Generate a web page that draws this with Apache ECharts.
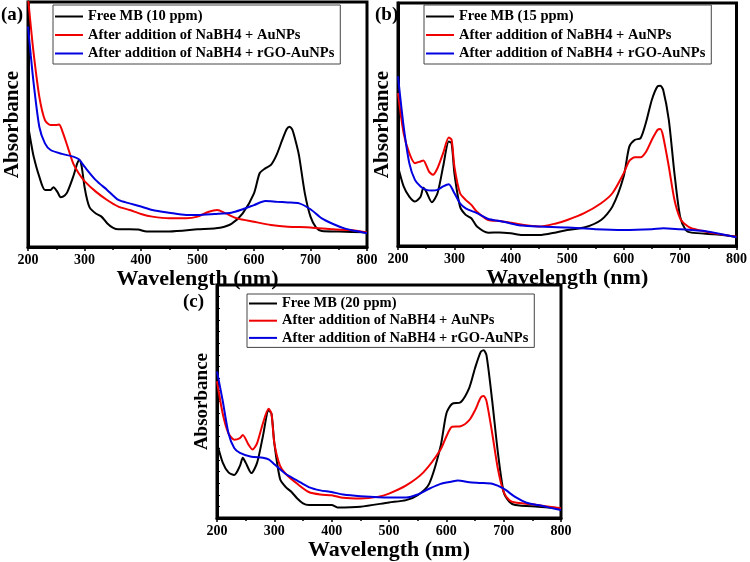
<!DOCTYPE html>
<html>
<head>
<meta charset="utf-8">
<script src="https://cdn.jsdelivr.net/npm/echarts@6/dist/echarts.min.js"></script>
<style>
  html, body { margin: 0; padding: 0; background: #fff; }
  #chart { width: 750px; height: 562px; }
</style>
</head>
<body>
<div id="chart"></div>
<script>
// wavelength ticks
const xMin = 200;
const xMax = 800;
const xStep = 100;

// legend names
const nameFree10 = 'Free MB (10 ppm)';
const nameFree15 = 'Free MB (15 ppm)';
const nameFree20 = 'Free MB (20 ppm)';
const nameAu = 'After addition of NaBH4 + AuNPs';
const nameRgo = 'After addition of NaBH4 + rGO-AuNPs';

// panel (a) - [wavelength, absorbance (a.u.)]
const freeA = [[200,49.8],[205,43],[210,36.9],[220,28.7],[230,23.3],[240,23.3],[245,24.4],[252,22.5],[258,20.3],[265,21],[270,22.6],[280,28.7],[287,34],[291,35.5],[295,32.8],[300,24.6],[305,19],[310,15.8],[320,13.7],[330,12.4],[340,9.7],[350,7.9],[360,7.2],[380,7.2],[395,7.1],[410,6.3],[450,6.3],[500,7.2],[540,7.9],[560,9.4],[580,13.7],[600,21.9],[610,30.1],[620,32.1],[630,33.5],[640,37.6],[650,43.7],[658,48.2],[663,49.1],[668,47.8],[675,42],[680,36.9],[690,21.9],[700,12.4],[710,7.9],[720,6.5],[750,6.3],[800,6]];
const auA = [[200,102],[205,90],[210,79],[220,61.4],[230,51.8],[240,49.8],[250,49.8],[255,50],[260,47.8],[270,41],[280,34.1],[290,30],[300,26.9],[320,22.6],[340,19.2],[360,16.5],[380,15.1],[400,13.5],[420,12.4],[450,11.7],[480,11.7],[500,12.4],[520,14.4],[535,15.1],[550,13.7],[570,11.7],[600,10.3],[630,9],[660,8.3],[700,8],[740,7.2],[770,6.9],[800,5.9]];
const rgoA = [[200,90],[205,78],[210,66.8],[220,49.1],[230,42.3],[240,39.6],[260,38],[280,36.9],[290,35.8],[300,32.8],[320,27.3],[340,23.3],[360,19.2],[380,17.8],[400,16.5],[420,15.1],[450,14],[480,13.1],[500,13.1],[530,13.5],[560,14],[580,15.4],[600,17.1],[620,18.8],[640,18.5],[660,18.2],[680,17.8],[700,15.4],[720,11.7],[740,9.4],[760,7.6],[780,6.5],[800,5.6]];

// panel (b)
const freeB = [[200,32.7],[210,24.5],[220,20.3],[230,18.3],[240,20.3],[245,24],[250,22.4],[260,18],[270,21.7],[280,32.7],[290,43],[295,42.3],[300,29.9],[310,16.2],[320,12.8],[330,11.4],[340,8],[360,5.5],[380,5.6],[400,5.2],[420,4.5],[450,4.5],[480,5.6],[500,6.6],[530,7.6],[560,10.7],[580,16.2],[600,28.6],[610,40.9],[620,43.7],[630,44.4],[640,51.2],[650,60.2],[660,65.7],[665,65.9],[670,64.3],[680,51.9],[690,29.9],[700,12.1],[710,6.6],[720,5.5],[760,4.8],[800,3.8]];
const auB = [[200,62.9],[210,46.4],[220,38.2],[230,34.1],[240,34.8],[245,35.2],[255,30.6],[262,29.3],[270,32],[280,38.2],[290,44.6],[295,43.7],[300,32.7],[310,21.7],[320,19],[330,16.9],[340,14.1],[360,10.7],[380,10.3],[400,9.6],[420,8.7],[450,8],[480,9.3],[500,10.7],[530,13.5],[560,17.6],[580,21.7],[600,29.9],[610,35],[620,36.5],[630,36.5],[640,38.9],[650,43.7],[660,47.8],[665,48.1],[670,45.1],[680,32.7],[690,19],[700,11.4],[710,8.7],[720,7.3],[740,6.2],[760,5.2],[800,3.8]];
const rgoB = [[200,69.8],[210,49.2],[220,34.1],[230,27.2],[240,24.5],[250,23.1],[260,22.8],[270,23.1],[280,24.5],[290,25.4],[300,21.7],[310,17.6],[320,15.5],[340,13.5],[360,11.1],[380,10.3],[400,9.3],[420,8.4],[450,8],[500,7.6],[550,6.9],[600,6.6],[650,6.9],[670,7.3],[700,6.9],[720,6.6],[740,6.3],[760,5.5],[800,3.6]];

// panel (c)
const freeC = [[200,32.2],[210,23.8],[220,19.6],[230,18.5],[240,22.4],[245,25.9],[250,23.8],[260,19.3],[270,23.8],[280,35],[290,46.2],[295,44.8],[300,32.2],[310,16.8],[320,13.3],[330,11.2],[340,8.4],[350,6.3],[360,5.6],[400,5.6],[410,4.6],[450,4.9],[500,6.7],[530,7.7],[550,9.8],[570,14.7],[590,30.8],[600,44.8],[610,49],[625,49.7],[640,55.9],[650,64.3],[660,71.3],[665,72],[670,69.9],[680,50.3],[690,28],[700,11.2],[710,7],[720,5.6],[760,4.9],[800,4.2]];
const auC = [[200,58.7],[210,44.8],[220,36.4],[230,33.6],[240,34.3],[245,35.7],[255,31.5],[262,29.4],[270,32.2],[280,40.6],[290,46.9],[295,44.8],[300,32.2],[310,22.4],[320,18.9],[340,14.7],[360,11.2],[380,10.1],[400,9.8],[420,8.7],[450,8.4],[480,9.1],[500,10.5],[530,14],[560,19.6],[590,29.4],[600,35],[610,39.2],[625,39.4],[640,42],[650,46.2],[660,51.7],[665,52.4],[670,50.3],[680,36.4],[690,21],[700,11.2],[710,7.7],[720,6.7],[750,5.9],[800,4.2]];
const rgoC = [[200,62.9],[210,50.3],[220,36.4],[230,30.1],[240,28],[260,26.3],[280,25.9],[290,25.2],[300,23.1],[320,18.9],[340,16.1],[360,13.3],[380,11.9],[400,11.2],[420,10.1],[450,9.4],[500,8.8],[530,8.8],[550,10.1],[570,12.6],[590,14.7],[610,15.7],[620,16.1],[640,15.4],[660,15.1],[680,14.7],[700,12.6],[720,9.1],[740,6.6],[760,5.6],[780,4.5],[800,3.5]];

const serif = '"Liberation Serif", "DejaVu Serif", serif';
const black = '#000000';
const red = '#f00000';
const blue = '#0000e0';

const chart = echarts.init(document.getElementById('chart'));

function makeX(gridIndex) {
  return {
    type: 'value', gridIndex: gridIndex, min: xMin, max: xMax, interval: xStep,
    name: 'Wavelength (nm)', nameLocation: 'middle', nameGap: 17,
    nameTextStyle: { fontFamily: serif, fontWeight: 'bold', fontSize: 22, color: black },
    axisLine: { show: true, lineStyle: { color: black, width: 3 } },
    axisTick: { show: true, inside: false, length: 4, lineStyle: { color: black, width: 1.5 } },
    minorTick: { show: true, splitNumber: 2, length: 3, lineStyle: { color: black, width: 1.5 } },
    axisLabel: { fontFamily: serif, fontWeight: 'bold', fontSize: 14, color: black, margin: 6 },
    splitLine: { show: false }
  };
}

function makeY(gridIndex, nameSize, ticks) {
  return {
    type: 'value', gridIndex: gridIndex, min: 0, max: 100, interval: 5,
    name: 'Absorbance', nameLocation: 'middle', nameGap: 5, nameRotate: 90,
    nameTextStyle: { fontFamily: serif, fontWeight: 'bold', fontSize: nameSize, color: black },
    axisLine: { show: true, lineStyle: { color: black, width: 3 } },
    axisTick: { show: ticks, inside: true, length: 3, lineStyle: { color: black, width: 1 } },
    axisLabel: { show: false },
    splitLine: { show: false }
  };
}

function makeSeries(name, data, color, idx) {
  return {
    name: name, type: 'line', data: data, xAxisIndex: idx, yAxisIndex: idx,
    symbol: 'none', smooth: 0.25, clip: true,
    lineStyle: { color: color, width: 2 }, itemStyle: { color: color },
    animation: false
  };
}

function makeLegend(names, left, top, gap, pad) {
  return {
    data: names, orient: 'vertical', left: left, top: top,
    icon: 'rect', itemWidth: 28, itemHeight: 2, itemGap: gap,
    padding: pad,
    borderColor: '#444', borderWidth: 1,
    selectedMode: false,
    textStyle: { fontFamily: serif, fontWeight: 'bold', fontSize: 14.5, color: black }
  };
}

const gridBox = { show: true, borderColor: black, borderWidth: 3, backgroundColor: 'transparent' };

const option = {
  backgroundColor: '#ffffff',
  animation: false,
  grid: [
    Object.assign({ left: 28, top: 2, width: 339, height: 245 }, gridBox),
    Object.assign({ left: 398, top: 3, width: 341, height: 243 }, gridBox),
    Object.assign({ left: 217, top: 285, width: 344, height: 238 }, gridBox)
  ],
  xAxis: [makeX(0), makeX(1), makeX(2)],
  yAxis: [makeY(0, 21, false), makeY(1, 21, false), makeY(2, 19, true)],
  legend: [
    makeLegend([nameFree10, nameAu, nameRgo], 53, 5, 3.5, [4, 6, 3, 2]),
    makeLegend([nameFree15, nameAu, nameRgo], 424, 5, 3.5, [4, 6, 3, 2]),
    makeLegend([nameFree20, nameAu, nameRgo], 247, 294, 2.2, [2, 6, 2, 2])
  ],
  graphic: [
    { type: 'text', left: 1, top: 6, style: { text: '(a)', font: 'bold 19px ' + serif, fill: black } },
    { type: 'text', left: 375, top: 6, style: { text: '(b)', font: 'bold 19px ' + serif, fill: black } },
    { type: 'text', left: 183, top: 293, style: { text: '(c)', font: 'bold 19px ' + serif, fill: black } }
  ],
  series: [
    makeSeries(nameFree10, freeA, black, 0),
    makeSeries(nameAu, auA, red, 0),
    makeSeries(nameRgo, rgoA, blue, 0),
    makeSeries(nameFree15, freeB, black, 1),
    makeSeries(nameAu, auB, red, 1),
    makeSeries(nameRgo, rgoB, blue, 1),
    makeSeries(nameFree20, freeC, black, 2),
    makeSeries(nameAu, auC, red, 2),
    makeSeries(nameRgo, rgoC, blue, 2)
  ]
};

chart.setOption(option);
</script>
</body>
</html>
